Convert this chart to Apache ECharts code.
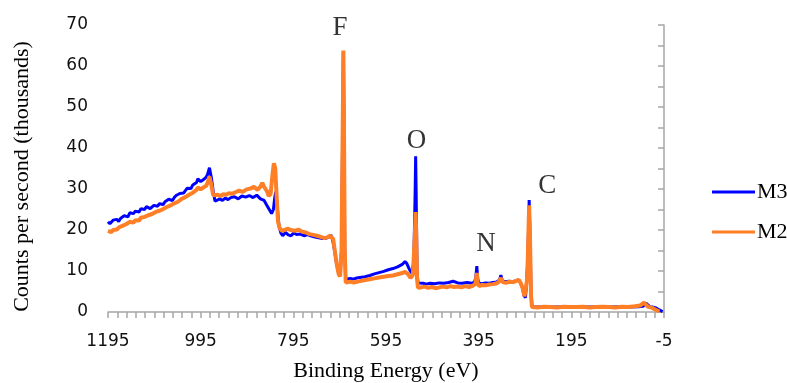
<!DOCTYPE html>
<html>
<head>
<meta charset="utf-8">
<script src="https://cdn.jsdelivr.net/npm/echarts@6/dist/echarts.min.js"></script>
<style>
  html, body { margin: 0; padding: 0; background: #fff; }
  #chart { width: 787px; height: 383px; }
</style>
</head>
<body>
<div id="chart"></div>
<script>
// binding energy (eV) and counts (thousands)
var m3Energy = [1195, 1191, 1188, 1184, 1180, 1176, 1172, 1168, 1164, 1160, 1156, 1152, 1148, 1144, 1140, 1136, 1132, 1128, 1124, 1120, 1116, 1112, 1108, 1104, 1100, 1096, 1092, 1088, 1084, 1080, 1076, 1072, 1068, 1064, 1060, 1056, 1052, 1048, 1044, 1040, 1036, 1032, 1028, 1024, 1020, 1016, 1012, 1008, 1004, 1001, 998, 995, 992, 989, 986, 983, 980, 976, 972, 968, 964, 960, 954, 948, 942, 936, 930, 922, 914, 906, 898, 890, 882, 874, 866, 858, 852, 846, 842, 838, 835, 833, 830, 826, 822, 818, 812, 806, 800, 794, 788, 780, 772, 764, 756, 748, 740, 732, 724, 718, 714, 710, 706, 702, 698, 694, 691, 688, 687, 686, 684, 682, 678, 672, 666, 658, 648, 640, 630, 620, 610, 600, 590, 580, 570, 560, 554, 550, 545, 540, 535, 532, 531, 530, 528, 526, 522, 515, 508, 500, 490, 480, 470, 460, 450, 440, 430, 420, 410, 404, 401, 399, 397, 394, 388, 380, 372, 364, 356, 350, 347, 344, 338, 330, 322, 316, 310, 305, 301, 297, 294, 291, 289, 287, 286, 284, 282, 280, 270, 250, 230, 210, 190, 170, 150, 130, 110, 90, 70, 50, 40, 34, 30, 26, 20, 12, 5, -2];
var m3Counts = [22.0, 21.5, 21.8, 22.4, 22.0, 22.6, 22.1, 22.8, 23.0, 23.5, 23.6, 23.2, 24.2, 24.5, 24.0, 24.6, 24.8, 24.4, 25.2, 25.5, 25.0, 25.7, 25.6, 25.2, 25.4, 26.0, 26.1, 25.8, 26.4, 26.7, 26.2, 26.9, 27.0, 27.5, 27.4, 27.2, 27.9, 28.4, 28.3, 28.9, 29.2, 29.0, 29.6, 30.2, 30.3, 30.1, 31.0, 31.4, 31.6, 32.5, 32.4, 31.8, 31.8, 32.3, 32.2, 32.9, 33.6, 35.2, 32.8, 29.5, 27.0, 26.6, 27.6, 27.2, 27.8, 27.4, 27.9, 28.1, 27.6, 28.3, 28.0, 28.4, 27.9, 28.5, 27.6, 27.2, 26.0, 24.8, 24.0, 25.0, 28.0, 29.3, 26.0, 21.0, 19.3, 18.6, 19.4, 18.8, 18.6, 19.3, 18.9, 19.0, 18.6, 18.9, 18.5, 18.3, 18.1, 17.9, 18.0, 18.3, 18.8, 17.5, 15.0, 12.0, 9.8, 9.0, 15.0, 50.0, 63.5, 50.0, 15.0, 8.0, 7.8, 8.2, 8.0, 8.3, 8.5, 8.6, 8.9, 9.3, 9.6, 9.9, 10.3, 10.6, 11.0, 11.6, 12.3, 11.8, 10.5, 9.5, 12.0, 30.0, 38.0, 30.0, 10.0, 7.1, 6.8, 7.0, 6.8, 7.0, 6.9, 7.1, 7.0, 7.2, 7.5, 7.1, 7.0, 7.2, 7.0, 7.3, 8.5, 11.2, 8.0, 7.0, 6.9, 7.1, 7.0, 7.2, 7.3, 7.8, 9.0, 7.6, 7.4, 7.5, 7.3, 7.6, 7.8, 7.2, 6.1, 4.0, 3.5, 8.0, 12.7, 22.0, 27.3, 18.0, 5.0, 1.3, 1.2, 1.3, 1.2, 1.3, 1.2, 1.3, 1.2, 1.3, 1.2, 1.3, 1.2, 1.3, 1.4, 2.2, 2.0, 1.3, 1.2, 1.0, 0.5, 0.1];

var m2Energy = [1195, 1191, 1188, 1184, 1180, 1176, 1172, 1168, 1164, 1160, 1156, 1152, 1148, 1144, 1140, 1136, 1132, 1128, 1124, 1120, 1116, 1112, 1108, 1104, 1100, 1096, 1092, 1088, 1084, 1080, 1076, 1072, 1068, 1064, 1060, 1056, 1052, 1048, 1044, 1040, 1036, 1032, 1028, 1024, 1020, 1016, 1012, 1008, 1004, 1001, 998, 995, 992, 989, 986, 983, 980, 976, 972, 968, 964, 958, 952, 946, 940, 934, 928, 920, 912, 904, 896, 888, 880, 872, 866, 862, 858, 852, 848, 844, 840, 837, 834, 831, 828, 825, 820, 814, 808, 800, 792, 784, 776, 768, 760, 752, 744, 736, 728, 722, 716, 713, 709, 705, 701, 697, 694, 691, 688, 687, 686, 684, 682, 678, 672, 664, 656, 648, 640, 630, 620, 610, 600, 590, 580, 570, 560, 554, 548, 542, 537, 533, 531, 530, 528, 526, 520, 512, 504, 496, 488, 480, 472, 464, 456, 448, 440, 432, 424, 416, 408, 402, 399, 397, 394, 388, 380, 372, 364, 356, 351, 347, 343, 336, 328, 320, 314, 308, 304, 300, 296, 293, 291, 289, 287, 286, 284, 282, 280, 268, 254, 240, 226, 212, 198, 184, 170, 156, 142, 128, 114, 100, 86, 72, 58, 46, 38, 34, 30, 26, 20, 12, 5, -2];
var m2Counts = [19.8, 19.6, 19.5, 20.0, 20.2, 20.1, 20.6, 20.4, 21.0, 21.3, 21.4, 21.2, 22.0, 22.3, 21.8, 22.4, 22.6, 22.3, 23.0, 23.3, 23.2, 23.5, 23.6, 23.4, 23.9, 24.2, 24.4, 24.2, 24.7, 25.0, 25.1, 25.0, 25.6, 25.9, 26.0, 25.8, 26.5, 26.8, 26.9, 27.2, 27.6, 27.4, 28.0, 28.4, 28.6, 28.4, 29.1, 29.5, 29.8, 30.4, 30.3, 29.9, 30.0, 30.4, 30.2, 30.8, 31.5, 33.0, 31.0, 28.5, 28.2, 28.6, 28.3, 28.7, 28.6, 29.0, 28.8, 29.2, 29.6, 29.3, 29.9, 30.1, 30.5, 29.8, 30.6, 31.5, 30.5, 29.5, 28.3, 28.8, 33.5, 36.3, 35.0, 28.0, 22.0, 20.6, 19.8, 20.0, 20.3, 20.0, 19.8, 20.1, 19.6, 19.4, 19.0, 18.8, 18.6, 18.3, 18.0, 18.2, 18.6, 19.0, 17.8, 14.5, 11.5, 9.2, 8.7, 15.0, 50.0, 63.8, 50.0, 15.0, 7.2, 7.0, 7.4, 7.2, 7.4, 7.6, 7.8, 8.0, 8.2, 8.4, 8.6, 8.8, 8.9, 9.2, 9.5, 9.8, 9.3, 8.3, 9.0, 18.0, 24.4, 20.0, 8.0, 5.9, 6.0, 6.2, 5.9, 6.1, 5.8, 6.0, 6.2, 6.0, 6.3, 6.1, 6.2, 6.0, 6.3, 6.1, 6.4, 6.8, 9.5, 7.0, 6.3, 6.6, 6.5, 6.7, 6.8, 7.0, 7.4, 8.3, 7.3, 7.1, 7.4, 7.3, 7.6, 7.8, 7.0, 5.8, 3.8, 3.4, 7.5, 12.7, 22.0, 26.0, 17.0, 4.0, 1.2, 1.1, 1.3, 1.2, 1.1, 1.3, 1.2, 1.2, 1.3, 1.1, 1.2, 1.3, 1.2, 1.1, 1.3, 1.2, 1.4, 1.6, 2.3, 1.9, 1.3, 1.2, 1.0, 0.5, 0.1];

var peakNames = ['F', 'O', 'N', 'C'];
var peakLabelEnergy = [694, 529, 379, 247];
var peakLabelCounts = [69.3, 41.7, 16.6, 30.7];

// axis runs 1195 .. -5; shift by 5 so ticks start on a multiple of 200
var shift = 5;

function pairs(xs, ys) {
  var out = [];
  for (var i = 0; i < xs.length; i++) {
    out.push([xs[i] + shift, ys[i]]);
  }
  return out;
}

var peakData = [];
for (var i = 0; i < peakNames.length; i++) {
  peakData.push({ name: peakNames[i], value: [peakLabelEnergy[i] + shift, peakLabelCounts[i]] });
}

var chartDom = document.getElementById('chart');
var myChart = echarts.init(chartDom);
var option;

option = {
  animation: false,
  backgroundColor: '#fff',
  grid: { left: 108, right: 123, top: 25, bottom: 71, outerBoundsMode: 'none', containLabel: false },
  legend: {
    data: ['M3', 'M2'],
    orient: 'vertical',
    left: 707,
    top: 176,
    icon: 'rect',
    itemWidth: 43,
    itemHeight: 3,
    itemGap: 18,
    textStyle: {
      fontFamily: 'Liberation Serif',
      fontSize: 22,
      lineHeight: 22,
      color: '#000',
      padding: [0, 0, 0, -3]
    }
  },
  xAxis: {
    type: 'value',
    inverse: true,
    min: 0,
    max: 1200,
    interval: 200,
    name: 'Binding Energy (eV)',
    nameLocation: 'middle',
    nameGap: 48,
    nameTextStyle: { fontFamily: 'Liberation Serif', fontSize: 22, color: '#000' },
    axisLine: { lineStyle: { color: '#a6a6a6', width: 1.5 } },
    axisTick: { length: 6, lineStyle: { color: '#a6a6a6', width: 1.5 } },
    minorTick: { show: true, splitNumber: 10, length: 6, lineStyle: { color: '#a6a6a6', width: 1.5 } },
    splitLine: { show: false },
    axisLabel: {
      margin: 21,
      fontFamily: 'DejaVu Sans',
      fontSize: 17,
      color: '#111',
      formatter: function (v) { return String(v - shift); }
    }
  },
  yAxis: {
    type: 'value',
    min: 0,
    max: 70,
    interval: 10,
    name: 'Counts per second (thousands)',
    nameLocation: 'middle',
    nameRotate: 90,
    nameGap: 75,
    nameTextStyle: { fontFamily: 'Liberation Serif', fontSize: 22, color: '#000', padding: [0, 16, 0, 0] },
    axisLine: { show: true, lineStyle: { color: '#a6a6a6', width: 1.5 } },
    axisTick: { show: true, length: 6, lineStyle: { color: '#a6a6a6', width: 1.5 } },
    minorTick: { show: true, splitNumber: 2, length: 6, lineStyle: { color: '#a6a6a6', width: 1.5 } },
    splitLine: { show: false },
    axisLabel: {
      margin: 20,
      fontFamily: 'DejaVu Sans',
      fontSize: 17,
      color: '#111'
    }
  },
  series: [
    {
      name: 'M3',
      type: 'line',
      showSymbol: false,
      symbol: 'none',
      color: '#0000ff',
      lineStyle: { color: '#0000ff', width: 3 },
      data: pairs(m3Energy, m3Counts)
    },
    {
      name: 'M2',
      type: 'line',
      showSymbol: false,
      symbol: 'none',
      color: '#ff7f27',
      lineStyle: { color: '#ff7f27', width: 4 },
      data: pairs(m2Energy, m2Counts)
    },
    {
      name: 'peaks',
      type: 'scatter',
      symbolSize: 0,
      clip: false,
      silent: true,
      label: {
        show: true,
        position: 'inside',
        formatter: '{b}',
        fontFamily: 'Liberation Serif',
        fontSize: 27,
        color: '#000'
      },
      data: peakData
    }
  ]
};
myChart.setOption(option);
</script>
</body>
</html>
